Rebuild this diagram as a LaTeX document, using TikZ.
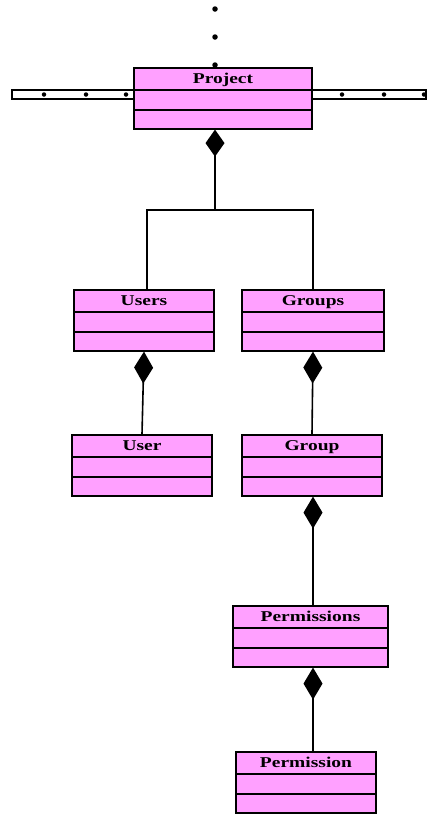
\documentclass[tikz,border=0pt]{standalone}
\usepackage{fontspec}
\newfontfamily\umlfont{Liberation Serif}[FakeStretch=1.3]
\usetikzlibrary{arrows.meta}
\definecolor{classpink}{RGB}{255,160,255}

\begin{document}
\begin{tikzpicture}[x=1pt,y=-1pt,line width=1.6pt,
            class node/.style={draw,fill=classpink,anchor=north,inner xsep=0pt,inner ysep=3.5pt,
                text height=12.5pt,text depth=41.5pt,
                font=\umlfont\bfseries\fontsize{15}{16}\selectfont,
                path picture={\draw
                    ([yshift=-22pt]path picture bounding box.north west) -- ([yshift=-22pt]path picture bounding box.north east)
                    ([yshift=-42pt]path picture bounding box.north west) -- ([yshift=-42pt]path picture bounding box.north east);}},
            owns/.style={{Diamond[length=#1,width=19pt]}-},
            owns/.default=32pt,
            dot/.style={circle,fill,inner sep=0pt,minimum size=5.5pt}]

        \useasboundingbox (0,0) rectangle (427,814);

        % Elided bits round the project
        \node[dot] (d1) at (215,9) {};
        \node[dot] (d2) at (215,37) {};
        \node[dot] (d3) at (215,65) {};
        \draw[fill=white,line width=1.4pt] (12,90) rectangle (134,99);
        \draw[fill=white,line width=1.4pt] (312,90) rectangle (426,99);
        \foreach \x in {44,86,126,342,384,424}
            \node[dot,minimum size=4.5pt] at (\x,94.5) {};

        % Define classes
        \node[class node,minimum width=178pt] (project) at (223,67) {Project};
        \node[class node,minimum width=140pt] (users) at (144,289) {Users};
        \node[class node,minimum width=142pt] (groups) at (313,289) {Groups};
        \node[class node,minimum width=140pt] (user) at (142,434) {User};
        \node[class node,minimum width=140pt] (group) at (312,434) {Group};
        \node[class node,minimum width=155pt] (permissions) at (310.5,605) {Permissions};
        \node[class node,minimum width=140pt] (permission) at (306,751) {Permission};
        \coordinate (fork) at (215,210);

        % Draw edges
        \draw ([xshift=3pt]users.north) |- (fork) -| (groups.north);
        \path
            ([xshift=-8pt]project.south) edge[owns=27pt] (fork)
            (users.south) edge[owns] (user.north)
            (groups.south) edge[owns] (group.north)
            ([xshift=1pt]group.south) edge[owns] ([xshift=2.5pt]permissions.north)
            ([xshift=2.5pt]permissions.south) edge[owns] ([xshift=7pt]permission.north);

\end{tikzpicture}
\end{document}
